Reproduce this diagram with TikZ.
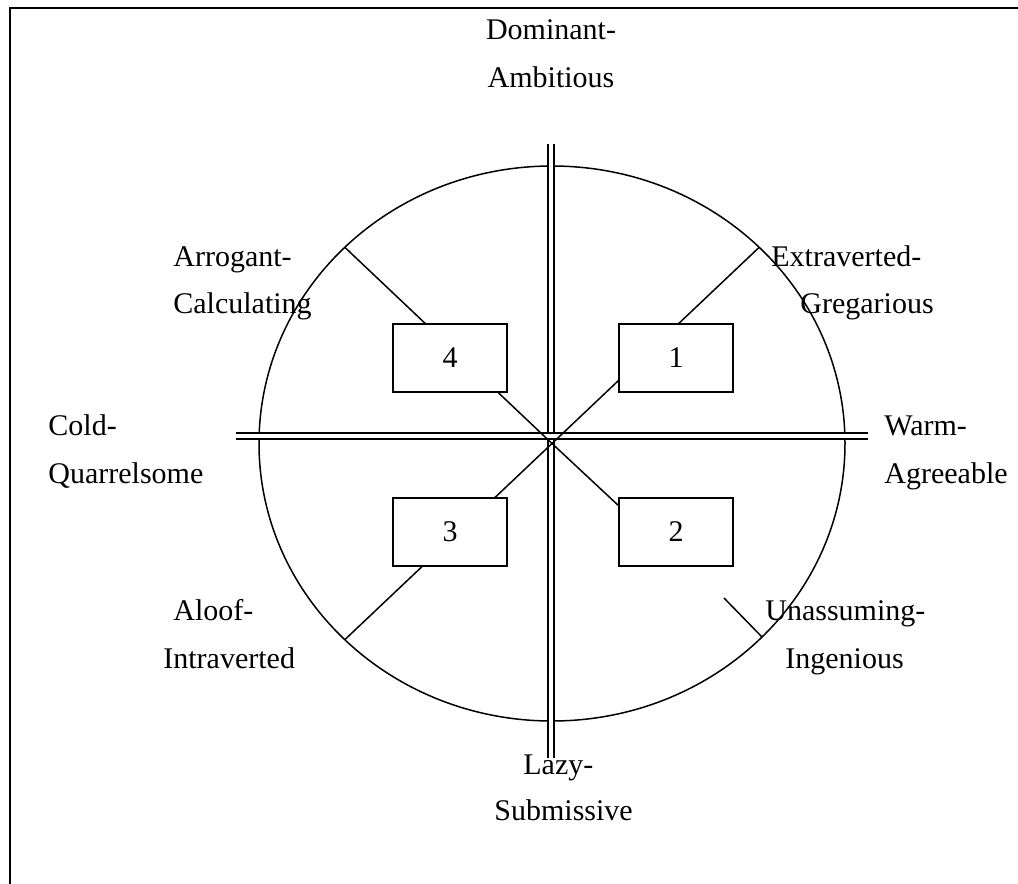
\documentclass[tikz,border=0pt]{standalone}
\usepackage{fontspec}
\setmainfont{Liberation Serif}
\begin{document}
\begin{tikzpicture}[x=0.5pt,y=-0.5pt,
  lbl/.style={font=\fontsize{15}{18}\selectfont, inner sep=0pt, anchor=base west},
  lblc/.style={lbl, anchor=base},
  quad/.style={draw, line width=0.75pt, fill=white, minimum width=57pt,
    minimum height=34pt, inner sep=0pt, font=\fontsize{15}{18}\selectfont},
  axis/.style={double, double distance=2pt, line width=0.9pt},
  spoke/.style={line width=0.75pt}]
\useasboundingbox (0,0) rectangle (1018,884);

% page frame (only top and left edges fall inside the page)
\draw[line width=1pt] (1030,8) -- (10,8) -- (10,900);

% circumplex circle
\coordinate (o) at (552,443.5);
\draw[line width=0.75pt] (o) ellipse [x radius=146.5pt, y radius=138.75pt];

% axes
\coordinate (vt) at (551,144);
\coordinate (vb) at (551,758);
\coordinate (hl) at (236,436);
\coordinate (hr) at (868,436);
\draw[axis] (vt) -- (vb);
\draw[axis] (hl) -- (hr);

% diagonal spokes
\coordinate (ne) at (759.2,247.3);
\coordinate (nw) at (344.8,247.3);
\coordinate (sw) at (344.8,639.7);
\coordinate (se) at (762,637);
\coordinate (sem) at (724,598);
\foreach \e in {ne,nw,sw} \draw[spoke] (o) -- (\e);
\draw[spoke] (o) -- (620,507);

% quadrant boxes
\node[quad] (q1) at (676,358) {1};
\node[quad] (q4) at (450,358) {4};
\node[quad] (q3) at (450,532) {3};
\node[quad] (q2) at (676,532) {2};

% outer part of the lower-right spoke
\draw[spoke] (sem) -- (se);

% octant labels
\node[lblc] (dom1) at (551,39) {Dominant-};
\node[lblc] (dom2) at (551,87) {Ambitious};
\node[lbl] (arr1) at (173,266) {Arrogant-};
\node[lbl] (arr2) at (173,313) {Calculating};
\node[lbl] (ext1) at (771,266) {Extraverted-};
\node[lbl] (ext2) at (800,313) {Gregarious};
\node[lbl] (cold1) at (48,435) {Cold-};
\node[lbl] (cold2) at (48,483) {Quarrelsome};
\node[lbl] (warm1) at (884,435) {Warm-};
\node[lbl] (warm2) at (884,483) {Agreeable};
\node[lbl] (alo1) at (173,620) {Aloof-};
\node[lbl] (alo2) at (163,668) {Intraverted};
\node[lbl] (una1) at (765,620) {Unassuming-};
\node[lbl] (una2) at (785,668) {Ingenious};
\node[lbl] (lazy1) at (523,774) {Lazy-};
\node[lbl] (lazy2) at (494,820) {Submissive};
\end{tikzpicture}
\end{document}
